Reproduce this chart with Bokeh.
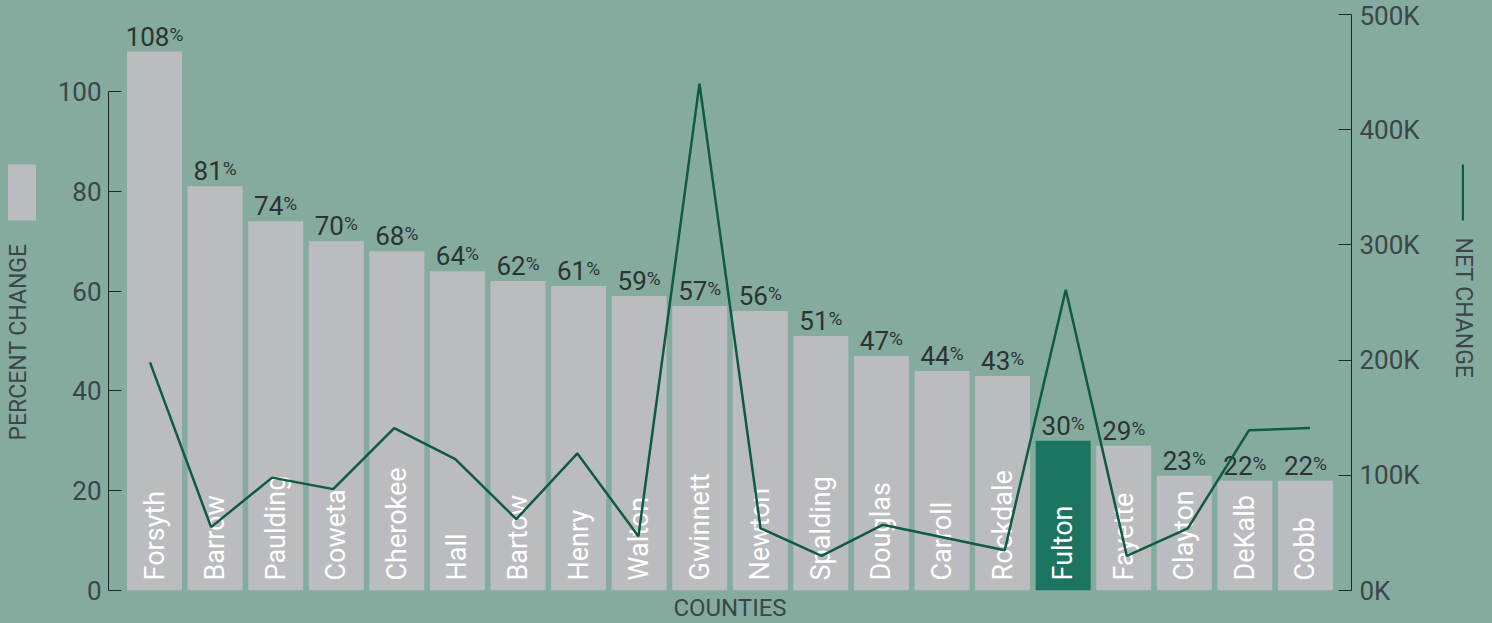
import math
from bokeh.plotting import figure
from bokeh.layouts import row
from bokeh.models import (ColumnDataSource, FactorRange, Range1d, LinearAxis,
                          FixedTicker, PrintfTickFormatter, Legend, LegendItem, Title, Label)
from bokeh.core.properties import value
from bokeh.embed import file_html
from bokeh.resources import INLINE

counties = ["Forsyth", "Barrow", "Paulding", "Coweta", "Cherokee", "Hall", "Bartow",
            "Henry", "Walton", "Gwinnett", "Newton", "Spalding", "Douglas", "Carroll",
            "Rockdale", "Fulton", "Fayette", "Clayton", "DeKalb", "Cobb"]
percent_change = [108, 81, 74, 70, 68, 64, 62, 61, 59, 57, 56, 51, 47, 44, 43, 30, 29, 23, 22, 22]
net_change_k = [198, 55, 98, 88, 141, 114, 62, 119, 47, 440, 54, 30, 57, 46, 35, 261, 30, 54, 139, 141]
highlight = "Fulton"
left_ticks = [0, 20, 40, 60, 80, 100]
right_ticks = [0, 100, 200, 300, 400, 500]

FONT = "Roboto"
BG = "#85ab9f"
BAR = "#bbbcbf"
HI = "#1c7560"
LINE = "#0f5a42"
TXT = "#2b3333"
AX_TXT = "#3b464a"
AX_LINE = "#1f2626"

H = 623
LEFT_W, MAIN_W, RIGHT_W = 36, 1404, 52

num_w = 14.6   # digit advance at 26px
pct_w = 13.9   # "%" advance at 19px
src = ColumnDataSource(dict(
    county=counties,
    pct=percent_change,
    net=net_change_k,
    num_str=[str(v) for v in percent_change],
    num_dx=[(len(str(v)) * num_w - pct_w) / 2 for v in percent_change],
    color=[HI if c == highlight else BAR for c in counties],
))


def base_fig(width, **kw):
    f = figure(width=width, height=H, output_backend="svg", toolbar_location=None,
               title=None, x_axis_location=None, **kw)
    f.background_fill_color = BG
    f.border_fill_color = None
    f.outline_line_color = None
    f.xgrid.visible = False
    f.ygrid.visible = False
    return f


# ---------------- main chart ----------------
p = base_fig(MAIN_W,
             x_range=FactorRange(factors=counties, range_padding=0.026),
             y_range=Range1d(0, 115.43),
             min_border_left=72, min_border_right=89, min_border_top=14, min_border_bottom=33)
p.extra_x_ranges = {"line": FactorRange(factors=counties, range_padding=0.018)}
p.extra_y_ranges = {"net": Range1d(0, 500)}

p.add_layout(Title(text="COUNTIES", align="center", offset=19, standoff=2,
                   text_font=FONT, text_font_size="24px", text_font_style="normal",
                   text_color=AX_TXT), "below")

ya = p.yaxis[0]
ya.ticker = FixedTicker(ticks=left_ticks)
ya.bounds = (0, 100)
ya.axis_line_color = AX_LINE
ya.major_tick_line_color = AX_LINE
ya.major_tick_in = 13
ya.major_tick_out = 0
ya.minor_tick_line_color = None
ya.major_label_text_font = FONT
ya.major_label_text_font_size = "26px"
ya.major_label_text_color = AX_TXT
ya.major_label_standoff = 7

ra = LinearAxis(y_range_name="net", ticker=FixedTicker(ticks=right_ticks),
                formatter=PrintfTickFormatter(format="%dK"), bounds=(0, 500))
ra.axis_line_color = AX_LINE
ra.major_tick_line_color = AX_LINE
ra.major_tick_in = 13
ra.major_tick_out = 0
ra.minor_tick_line_color = None
ra.major_label_text_font = FONT
ra.major_label_text_font_size = "26px"
ra.major_label_text_color = AX_TXT
ra.major_label_standoff = 8
p.add_layout(ra, "right")

bars = p.vbar(x="county", top="pct", bottom=0, width=0.908, source=src,
              fill_color="color", line_color=None)

p.text(x="county", y=0, text="county", source=src, angle=math.pi / 2,
       text_align="left", text_baseline="middle", y_offset=-10,
       text_color="white", text_font=value(FONT), text_font_size="27px")

p.text(x="county", y="pct", text="num_str", source=src, x_offset="num_dx", y_offset=-6,
       text_align="right", text_baseline="bottom",
       text_color=TXT, text_font=value(FONT), text_font_size="26px")
p.text(x="county", y="pct", text=value("%"), source=src, x_offset="num_dx", y_offset=-6,
       text_align="left", text_baseline="bottom",
       text_color=TXT, text_font=value(FONT), text_font_size="19px")

p.line(x="county", y="net", source=src, x_range_name="line", y_range_name="net",
       line_color=LINE, line_width=2.5)


def swatch_legend(fig, item, loc, gw, gh):
    lg = Legend(items=[item], location=loc, glyph_width=gw, glyph_height=gh,
                padding=0, margin=0, spacing=0, label_width=0, label_height=0,
                label_standoff=0, label_text_font_size="1px",
                background_fill_alpha=0, border_line_color=None)
    fig.add_layout(lg, "center")


# ---------------- left key: PERCENT CHANGE ----------------
pl = base_fig(LEFT_W, x_range=FactorRange(factors=counties), y_range=Range1d(0, 115.43),
              y_axis_location=None, min_border=0)
pct_key = pl.vbar(x="county", top="pct", bottom=0, width=0, source=src,
                  fill_color=BAR, line_color=None)
swatch_legend(pl, LegendItem(label=" ", renderers=[pct_key], index=0), (3.5, 363), 35, 70)
pl.add_layout(Label(x=18, y=150, x_units="screen", y_units="screen", text="PERCENT CHANGE",
                    angle=math.pi / 2, text_align="left", text_baseline="middle",
                    text_font=FONT, text_font_size="23px", text_color=AX_TXT))

# ---------------- right key: NET CHANGE ----------------
pr = base_fig(RIGHT_W, x_range=FactorRange(factors=counties), y_range=Range1d(0, 500),
              y_axis_location=None, min_border=0)
net_key = pr.vbar(x="county", top="net", bottom=0, width=0, source=src,
                  fill_color=LINE, line_color=None)
swatch_legend(pr, LegendItem(label=" ", renderers=[net_key], index=0), (21, 363), 3, 70)
pr.add_layout(Label(x=22.7, y=353, x_units="screen", y_units="screen", text="NET CHANGE",
                    angle=-math.pi / 2, text_align="left", text_baseline="middle",
                    text_font=FONT, text_font_size="23px", text_color=AX_TXT))

layout = row(pl, p, pr, spacing=0)
layout.styles = {"background-color": BG}

open("out.html", "w").write(file_html(layout, INLINE))
